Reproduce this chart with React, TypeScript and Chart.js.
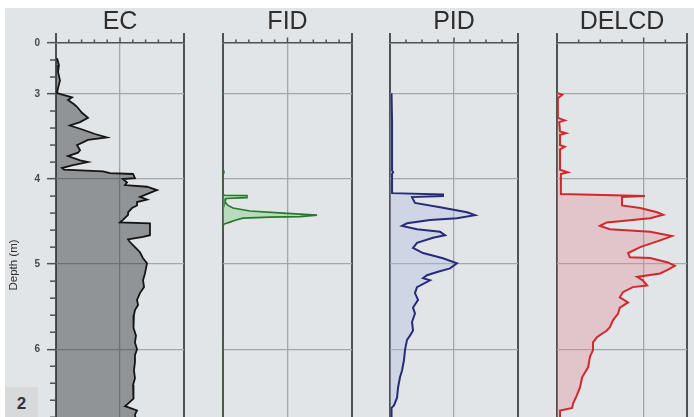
import React, { useEffect, useRef } from 'react';
import { Chart, registerables } from 'chart.js';

Chart.register(...registerables);

const FONT = '"Liberation Sans", Arial, Helvetica, sans-serif';
Chart.defaults.font.family = FONT;

// ---------- depth axis ----------
const depthTop = 2.4; // labelled "0" (broken axis)
const depthBottom = 7.62;
const depthMajorTicks = [2.4, 3, 4, 5, 6, 7];
const depthMinorTicks = [2.6, 2.8, 3.2, 3.4, 3.6, 3.8, 4.2, 4.4, 4.6, 4.8, 5.2, 5.4, 5.6, 5.8, 6.2, 6.4, 6.6, 6.8, 7.2, 7.4];
const depthLabels: Record<string, string> = { '2.4': '0', '3': '3', '4': '4', '5': '5', '6': '6', '7': '7' };

// ---------- panel titles ----------
const panelNames = ['EC', 'FID', 'PID', 'DELCD'];

// ---------- profiles: [depth (m), value] ----------
const ecProfile: [number, number][] = [
  [2.58, 0.8], [2.66, 2.3], [2.74, 1.6], [2.84, 3.1], [2.93, 1.6], [2.99, 0.8], [3.04, 12.5], [3.07, 9.4],
  [3.12, 14.1], [3.15, 16.4], [3.22, 20.3], [3.28, 25.0], [3.33, 18.8], [3.37, 10.9], [3.42, 21.1], [3.47, 30.5],
  [3.51, 39.8], [3.54, 25.0], [3.6, 16.4], [3.66, 18.8], [3.69, 17.2], [3.73, 9.4], [3.78, 18.8], [3.8, 25.0],
  [3.84, 12.5], [3.87, 4.7], [3.89, 6.3], [3.91, 36.7], [3.93, 42.2], [3.94, 60.2], [3.99, 61.7], [4.0, 52.3],
  [4.04, 55.5], [4.07, 53.9], [4.09, 71.1], [4.13, 78.9], [4.17, 71.9], [4.21, 65.6], [4.24, 71.1], [4.27, 63.3],
  [4.31, 63.3], [4.34, 59.4], [4.39, 56.3], [4.42, 56.3], [4.48, 52.3], [4.51, 50.0], [4.52, 73.4], [4.6, 73.4],
  [4.66, 73.4], [4.68, 68.0], [4.71, 56.3], [4.74, 57.8], [4.8, 61.7], [4.86, 65.6], [4.93, 68.0], [4.99, 71.1],
  [5.05, 70.3], [5.11, 69.5], [5.19, 68.0], [5.27, 68.8], [5.34, 65.6], [5.42, 63.3], [5.48, 64.1], [5.54, 61.7],
  [5.6, 60.9], [5.68, 60.2], [5.75, 60.9], [5.84, 62.5], [5.92, 61.7], [6.0, 63.3], [6.07, 61.7], [6.15, 61.7],
  [6.25, 60.9], [6.34, 61.7], [6.42, 60.2], [6.51, 60.2], [6.58, 60.9], [6.64, 56.3], [6.67, 53.9], [6.72, 63.3],
  [6.77, 61.7], [6.85, 62.5],
];

const fidProfile: [number, number | null][] = [
  [2.96, 0], [3.02, 0], [3.03, null], [3.88, 0], [3.92, 0.8], [3.95, 0], [4.17, 0], [4.19, 0.8],
  [4.194, 18.6], [4.218, 18.6], [4.229, 2.3], [4.27, 1.6], [4.31, 3.9], [4.34, 7.8], [4.376, 20.9],
  [4.4, 46.5], [4.424, 72.9], [4.441, 59.7], [4.447, 36.4], [4.459, 15.5], [4.482, 10.1], [4.506, 5.4],
  [4.529, 0.8], [4.553, 0], [4.6, 0], [4.61, null], [5.84, 0], [6.85, 0],
];

const pidProfile: [number, number][] = [
  [2.99, 1.2], [3.31, 1.6], [3.66, 1.6], [3.9, 1.6], [3.92, 2.4], [3.94, 1.6], [4.165, 1.6], [4.182, 41.4],
  [4.2, 41.4], [4.212, 17.2], [4.28, 19.5], [4.33, 39.1], [4.39, 60.2], [4.424, 66.4], [4.46, 52.3],
  [4.48, 31.3], [4.52, 13.3], [4.55, 9.4], [4.59, 21.1], [4.62, 39.1], [4.66, 43.0], [4.69, 33.6],
  [4.75, 21.1], [4.81, 18.0], [4.87, 25.8], [4.93, 41.4], [4.99, 52.3], [5.05, 46.9], [5.09, 37.5],
  [5.13, 28.9], [5.165, 25.8], [5.19, 31.3], [5.27, 21.1], [5.34, 19.5], [5.42, 21.9], [5.51, 18.0],
  [5.58, 19.5], [5.68, 17.2], [5.78, 18.0], [5.84, 15.6], [5.89, 13.3], [6.01, 11.7], [6.13, 10.9],
  [6.25, 9.4], [6.33, 7.8], [6.45, 6.3], [6.57, 5.5], [6.66, 3.1], [6.69, 1.2], [6.85, 1.2],
];

const delcdProfile: [number, number][] = [
  [2.99, 0.02], [3.01, 0.12], [3.05, 0.02], [3.28, 0.02], [3.31, 0.18], [3.33, 0.05], [3.44, 0.07],
  [3.46, 0.21], [3.48, 0.07], [3.6, 0.07], [3.62, 0.18], [3.65, 0.07], [3.89, 0.07], [3.92, 0.25],
  [3.94, 0.09], [4.176, 0.09], [4.2, 2.03], [4.212, 1.5], [4.31, 1.5], [4.34, 1.92], [4.39, 2.31],
  [4.42, 2.45], [4.46, 2.15], [4.51, 1.15], [4.55, 0.99], [4.59, 1.22], [4.62, 2.15], [4.67, 2.65],
  [4.72, 2.38], [4.8, 1.92], [4.87, 1.64], [4.918, 1.68], [4.929, 2.15], [4.98, 2.56], [5.02, 2.72],
  [5.07, 2.54], [5.11, 2.38], [5.15, 1.85], [5.19, 1.98], [5.25, 2.08], [5.27, 1.75], [5.33, 1.52],
  [5.39, 1.45], [5.45, 1.64], [5.51, 1.45], [5.58, 1.41], [5.66, 1.29], [5.74, 1.22], [5.78, 1.15],
  [5.86, 0.92], [5.92, 0.83], [6.01, 0.83], [6.09, 0.76], [6.21, 0.72], [6.33, 0.58], [6.45, 0.53],
  [6.54, 0.46], [6.64, 0.37], [6.69, 0.35], [6.72, 0.07], [6.85, 0.07],
];

// ---------- value-axis ticks per panel ----------
const ecMajorTicks = [0, 50, 100];
const ecMinorTicks = [10, 20, 30, 40, 60, 70, 80, 90];
const fidMajorTicks = [0, 50, 100];
const fidMinorTicks = [10, 20, 30, 40, 60, 70, 80, 90];
const pidMajorTicks = [0, 50, 100];
const pidMinorTicks = [12.5, 25, 37.5, 62.5, 75, 87.5];
const delcdMajorTicks = [0, 2, 3];
const delcdMinorTicks = [0.5, 1, 1.5, 2.5];

// ---------- styling / layout ----------
const BG = '#e2e5e8';
const AXIS = '#4f5153';
const GRID = '#a4a7aa';
const CANVAS_H = 487;
const AREA_TOP = 43;
const SIDE_PAD = 10;

type Panel = {
  name: string;
  profile: [number, number | null][];
  min: number;
  max: number;
  major: number[];
  minor: number[];
  line: string;
  fill: string;
  width: number;
  left: number;
  right: number;
};

const panels: Panel[] = [
  { name: panelNames[0], profile: ecProfile, min: 0, max: 100, major: ecMajorTicks, minor: ecMinorTicks, line: '#141414', fill: 'rgba(40,42,44,0.43)', width: 1.8, left: 56, right: 184 },
  { name: panelNames[1], profile: fidProfile, min: 0, max: 100, major: fidMajorTicks, minor: fidMinorTicks, line: '#25782c', fill: 'rgba(110,200,110,0.35)', width: 1.6, left: 223, right: 352 },
  { name: panelNames[2], profile: pidProfile, min: 0, max: 100, major: pidMajorTicks, minor: pidMinorTicks, line: '#272b78', fill: 'rgba(170,185,225,0.35)', width: 2, left: 390, right: 518 },
  { name: panelNames[3], profile: delcdProfile, min: 0, max: 3, major: delcdMajorTicks, minor: delcdMinorTicks, line: '#d2282b', fill: 'rgba(225,130,140,0.32)', width: 2, left: 557, right: 687 },
];

function tickPlugin(panel: Panel, first: boolean) {
  return {
    id: 'panelTicks',
    afterDraw(chart: any) {
      const { ctx, chartArea } = chart;
      const xs = chart.scales.x;
      const ys = chart.scales.y;
      const top = chartArea.top;
      const seg = (x1: number, y1: number, x2: number, y2: number) => {
        ctx.beginPath();
        ctx.moveTo(x1, y1);
        ctx.lineTo(x2, y2);
        ctx.stroke();
      };
      ctx.save();
      ctx.strokeStyle = AXIS;
      ctx.lineWidth = 1.5;
      panel.minor.forEach((v) => {
        const px = xs.getPixelForValue(v);
        seg(px, top - 3.5, px, top);
      });
      panel.major.forEach((v) => {
        const px = xs.getPixelForValue(v);
        const edge = v === panel.min || v === panel.max;
        ctx.lineWidth = edge ? 2 : 1.5;
        seg(px, top - (edge ? 10 : 5.5), px, top);
      });
      if (first) {
        ctx.lineWidth = 1.5;
        depthMinorTicks.forEach((d) => {
          const py = ys.getPixelForValue(d);
          seg(chartArea.left - 6, py, chartArea.left, py);
        });
      }
      ctx.restore();
    },
  };
}

function buildConfig(panel: Panel, first: boolean): any {
  const data = panel.profile.map(([d, v]) => ({ x: v, y: d }));
  return {
    type: 'line',
    data: {
      datasets: [
        {
          data,
          borderColor: panel.line,
          backgroundColor: panel.fill,
          borderWidth: panel.width,
          fill: 'origin',
          pointRadius: 0,
          tension: 0,
          spanGaps: false,
        },
      ],
    },
    plugins: [tickPlugin(panel, first)],
    options: {
      animation: false,
      responsive: false,
      indexAxis: 'y',
      layout: { padding: { left: first ? 0 : SIDE_PAD, right: SIDE_PAD, top: 0, bottom: 0 } },
      plugins: { legend: { display: false }, tooltip: { enabled: false }, title: { display: false } },
      scales: {
        x: {
          type: 'linear',
          position: 'top',
          min: panel.min,
          max: panel.max,
          afterBuildTicks: (s: any) => {
            s.ticks = panel.major.map((v) => ({ value: v }));
          },
          afterFit: (s: any) => {
            s.height = AREA_TOP;
            s.paddingLeft = 0;
            s.paddingRight = 0;
          },
          ticks: { display: false },
          grid: {
            drawTicks: false,
            color: (c: any) => (c.tick && (c.tick.value === panel.min || c.tick.value === panel.max) ? AXIS : GRID),
            lineWidth: (c: any) => (c.tick && (c.tick.value === panel.min || c.tick.value === panel.max) ? 2 : 1.3),
          },
          border: { display: true, color: AXIS, width: 1.5 },
          title: {
            display: true,
            text: panel.name,
            color: '#2e2e2e',
            font: { size: 25, family: FONT },
            padding: { top: 7.5, bottom: 0 },
          },
        },
        y: {
          type: 'linear',
          position: 'left',
          reverse: true,
          min: depthTop,
          max: depthBottom,
          afterBuildTicks: (s: any) => {
            s.ticks = depthMajorTicks.map((v) => ({ value: v }));
          },
          afterFit: (s: any) => {
            s.width = first ? panel.left : 0;
            s.paddingTop = 0;
            s.paddingBottom = 0;
          },
          ticks: {
            display: first,
            padding: 7,
            color: '#474747',
            font: { size: 10, weight: 'bold', family: FONT },
            callback: (v: number) => depthLabels[String(v)] ?? String(v),
          },
          grid: {
            drawTicks: first,
            tickLength: 9,
            tickColor: AXIS,
            tickWidth: 1.5,
            color: (c: any) => (c.tick && c.tick.value === depthTop ? 'rgba(0,0,0,0)' : GRID),
            lineWidth: 1.3,
          },
          border: { display: false },
          title: {
            display: first,
            text: 'Depth (m)',
            color: '#333',
            font: { size: 11.5, family: FONT },
            padding: { top: 7, bottom: 0 },
          },
        },
      },
    },
  };
}

function PanelChart({ panel, first }: { panel: Panel; first: boolean }) {
  const ref = useRef<HTMLCanvasElement>(null);
  useEffect(() => {
    const chart = new Chart(ref.current as HTMLCanvasElement, buildConfig(panel, first));
    return () => chart.destroy();
  }, [panel, first]);
  const canvasLeft = first ? 0 : panel.left - SIDE_PAD;
  const width = panel.right + SIDE_PAD - canvasLeft;
  return (
    <canvas
      ref={ref}
      width={width}
      height={CANVAS_H}
      style={{ position: 'absolute', left: canvasLeft, top: 0, width, height: CANVAS_H }}
    />
  );
}

export default function App() {
  return (
    <div style={{ position: 'fixed', left: 0, top: 0, width: 694, height: 417, overflow: 'hidden', background: '#ffffff' }}>
      <div style={{ position: 'absolute', left: 5, top: 8, right: 0, bottom: 0, background: BG }} />
      {panels.map((p, i) => (
        <PanelChart key={p.name} panel={p} first={i === 0} />
      ))}
      <div
        style={{
          position: 'absolute',
          left: 5,
          top: 387,
          width: 33,
          height: 30,
          background: '#d8d9da',
          color: '#333',
          font: `bold 17px ${FONT}`,
          display: 'flex',
          alignItems: 'center',
          justifyContent: 'center',
          paddingTop: 3,
          boxSizing: 'border-box',
        }}
      >
        2
      </div>
    </div>
  );
}
